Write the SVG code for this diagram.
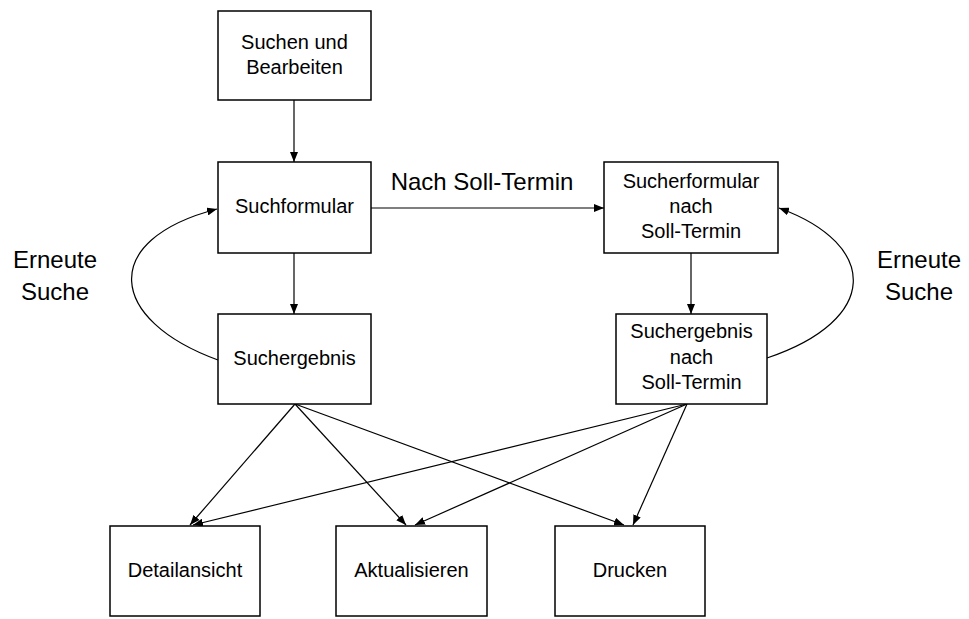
<svg xmlns="http://www.w3.org/2000/svg" width="969" height="619" viewBox="0 0 969 619">
<style>
.box{fill:#fff;stroke:#000;stroke-width:1.5}
.t{font-family:"Liberation Sans",Arial,sans-serif;font-size:20px;fill:#000;text-anchor:middle}
.lbl{font-family:"Liberation Sans",Arial,sans-serif;font-size:24px;fill:#000;text-anchor:middle}
.c{fill:none;stroke:#000;stroke-width:1.2;marker-end:url(#ah)}
</style>
<defs>
<marker id="ah" viewBox="0 0 10 8" refX="10" refY="4" markerWidth="10" markerHeight="8" markerUnits="userSpaceOnUse" orient="auto">
<path d="M0,0 L10,4 L0,8 Z" fill="#000"/>
</marker>
</defs>
<rect width="969" height="619" fill="#fff"/>
<g id="connectors">
<line class="c" x1="294" y1="100" x2="294" y2="162"/>
<line class="c" x1="294" y1="253" x2="294" y2="314"/>
<line class="c" x1="371" y1="208" x2="604" y2="208"/>
<line class="c" x1="691" y1="253" x2="691" y2="314"/>
<path class="c" d="M218,360 C108,320 98,240 217,209"/>
<path class="c" d="M767,358 C880,320 880,245 779,208"/>
<line class="c" x1="295" y1="404" x2="190" y2="525"/>
<line class="c" x1="295" y1="404" x2="406" y2="525"/>
<line class="c" x1="295" y1="404" x2="624" y2="525"/>
<line class="c" x1="687" y1="404" x2="193" y2="525"/>
<line class="c" x1="687" y1="404" x2="415" y2="525"/>
<line class="c" x1="687" y1="404" x2="633" y2="525"/>
</g>
<text class="lbl" x="482" y="190">Nach Soll-Termin</text>
<text class="lbl" x="55" y="268">Erneute</text>
<text class="lbl" x="55" y="300">Suche</text>
<text class="lbl" x="919" y="268">Erneute</text>
<text class="lbl" x="919" y="300">Suche</text>
<g id="n1"><rect class="box" x="218" y="11" width="153" height="89"/>
<text class="t" x="294.5" y="49">Suchen und</text><text class="t" x="294.5" y="74">Bearbeiten</text></g>
<g id="n2"><rect class="box" x="218" y="162" width="153" height="91"/>
<text class="t" x="294.5" y="213">Suchformular</text></g>
<g id="n3"><rect class="box" x="218" y="314" width="153" height="90"/>
<text class="t" x="294.5" y="365">Suchergebnis</text></g>
<g id="n4"><rect class="box" x="604" y="162" width="174" height="91"/>
<text class="t" x="691" y="188">Sucherformular</text><text class="t" x="691" y="213">nach</text><text class="t" x="691" y="238">Soll-Termin</text></g>
<g id="n5"><rect class="box" x="616" y="314" width="151" height="90"/>
<text class="t" x="691.5" y="338">Suchergebnis</text><text class="t" x="691.5" y="364">nach</text><text class="t" x="691.5" y="389">Soll-Termin</text></g>
<g id="n6"><rect class="box" x="110" y="526" width="150" height="90"/>
<text class="t" x="185" y="577">Detailansicht</text></g>
<g id="n7"><rect class="box" x="336" y="526" width="151" height="90"/>
<text class="t" x="411.5" y="577">Aktualisieren</text></g>
<g id="n8"><rect class="box" x="555" y="526" width="150" height="90"/>
<text class="t" x="630" y="577">Drucken</text></g>
</svg>
